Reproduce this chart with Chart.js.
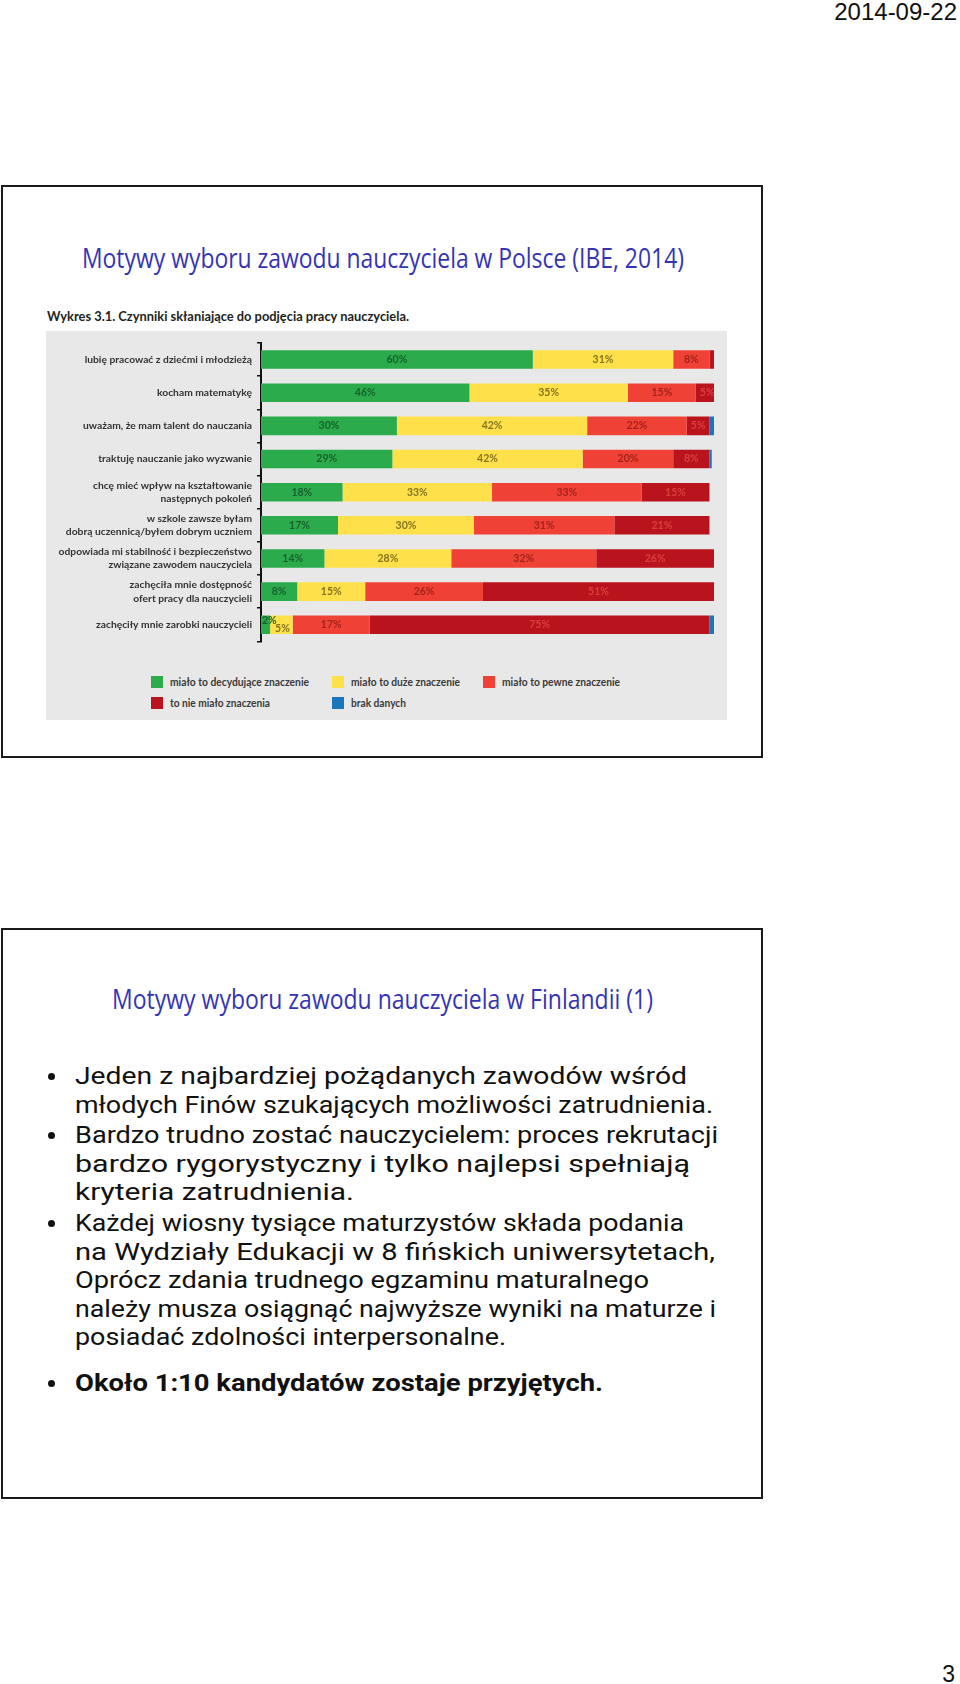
<!DOCTYPE html>
<html><head><meta charset="utf-8">
<script src="https://cdn.jsdelivr.net/npm/chart.js@4.4.1/dist/chart.umd.min.js"></script>
<style>
html,body{margin:0;padding:0;background:#fff;}
body{width:960px;height:1684px;position:relative;overflow:hidden;font-family:"Open Sans",sans-serif;}
.t{position:absolute;white-space:nowrap;line-height:1;transform-origin:0 50%;}
.box{position:absolute;border:2px solid #1a1a1a;box-sizing:border-box;}
.title{font-family:"Open Sans";font-size:27px;color:#3434b4;}
.bl{font-family:"Roboto";font-size:24px;color:#111;}
.dot{position:absolute;width:7px;height:7px;border-radius:50%;background:#111;}
.lg{font-family:"Lato";font-weight:700;font-size:11px;color:#3a3a3a;}
.sq{position:absolute;width:12px;height:12px;}
</style></head><body>

<div class="t" style="right:3px;top:0;font-family:'Liberation Sans';font-size:24px;color:#111;">2014-09-22</div>
<div class="t" style="right:5px;top:1663px;font-family:'Liberation Sans';font-size:23px;color:#111;">3</div>

<div class="box" style="left:1px;top:185px;width:762px;height:573px;"></div>
<div class="box" style="left:1px;top:928px;width:762px;height:571px;"></div>

<div class="t title" data-x="82" data-y="258" data-f="27" data-w="602">Motywy wyboru zawodu nauczyciela w Polsce (IBE, 2014)</div>
<div class="t" style="font-family:Lato;font-weight:700;font-size:13px;color:#231f20;" data-x="47" data-y="317" data-f="13" data-w="362">Wykres 3.1. Czynniki skłaniające do podjęcia pracy nauczyciela.</div>

<div style="position:absolute;left:46px;top:331px;width:681px;height:389px;background:#e8e8e8;"></div>
<div style="position:absolute;left:46px;top:331px;width:668px;height:322px;"><canvas id="c"></canvas></div>

<div id="legend"></div>

<div class="t title" data-x="112" data-y="999" data-f="27" data-w="541">Motywy wyboru zawodu nauczyciela w Finlandii (1)</div>

<div id="bullets"></div>

<script>
// ---- data ----
const categories = [
  'lubię pracować z dziećmi i młodzieżą',
  'kocham matematykę',
  'uważam, że mam talent do nauczania',
  'traktuję nauczanie jako wyzwanie',
  ['chcę mieć wpływ na kształtowanie','następnych pokoleń'],
  ['w szkole zawsze byłam','dobrą uczennicą/byłem dobrym uczniem'],
  ['odpowiada mi stabilność i bezpieczeństwo','związane zawodem nauczyciela'],
  ['zachęciła mnie dostępność','ofert pracy dla nauczycieli'],
  'zachęciły mnie zarobki nauczycieli'
];
const seriesNames = ['miało to decydujące znaczenie','miało to duże znaczenie','miało to pewne znaczenie','to nie miało znaczenia','brak danych'];
const decydujace = [60,46,30,29,18,17,14,8,2];
const duze       = [31,35,42,42,33,30,28,15,5];
const pewne      = [8,15,22,20,33,31,32,26,17];
const nieMialo   = [1,5,5,8,15,21,26,51,75];
const brakDanych = [0,0.4,1,0.5,0,0,0.4,0.4,1];

const bulletLines = [
  {t:'Jeden z najbardziej pożądanych zawodów wśród', b:true},
  {t:'młodych Finów szukających możliwości zatrudnienia.'},
  {t:'Bardzo trudno zostać nauczycielem: proces rekrutacji', b:true},
  {t:'bardzo rygorystyczny i tylko najlepsi spełniają'},
  {t:'kryteria zatrudnienia.'},
  {t:'Każdej wiosny tysiące maturzystów składa podania', b:true},
  {t:'na Wydziały Edukacji w 8 fińskich uniwersytetach,'},
  {t:'Oprócz zdania trudnego egzaminu maturalnego'},
  {t:'należy musza osiągnąć najwyższe wyniki na maturze i'},
  {t:'posiadać zdolności interpersonalne.'},
  {t:'Około 1:10 kandydatów zostaje przyjętych.', b:true, bold:true}
];

// ---- layout helpers ----
const bulletY = [1076,1104.5,1135,1163.5,1192,1223,1251.5,1280,1308.5,1337,1383];
const bulletW = [612,638,643,615,279,609,640,574,641,431,528];
const bc = document.getElementById('bullets');
bulletLines.forEach((l,i)=>{
  const d = document.createElement('div');
  d.className='t bl';
  if(l.bold) d.style.fontWeight='700';
  d.textContent=l.t;
  d.dataset.x=75; d.dataset.y=bulletY[i]; d.dataset.f=24; d.dataset.k=0.49; d.dataset.w=bulletW[i];
  bc.appendChild(d);
  if(l.b){
    const o=document.createElement('div'); o.className='dot';
    o.style.left='48px'; o.style.top=(bulletY[i]-3)+'px';
    bc.appendChild(o);
  }
});

const colors = ['#2bab4b','#fee04b','#ef4136','#b9141d','#1b75bb'];
const labelColors = ['#17602d','#85731f','#a3231b','#d9403d',null];

const legendPos = [
  {x:151,y:682,w:139},{x:332,y:682,w:109},{x:483,y:682,w:118},
  {x:151,y:703,w:100},{x:332,y:703,w:55}
];
const lg = document.getElementById('legend');
seriesNames.forEach((n,i)=>{
  const p=legendPos[i];
  const s=document.createElement('div'); s.className='sq';
  s.style.left=p.x+'px'; s.style.top=(p.y-6)+'px'; s.style.background=colors[i];
  lg.appendChild(s);
  const t=document.createElement('div'); t.className='t lg'; t.textContent=n;
  t.dataset.x=p.x+19; t.dataset.y=p.y; t.dataset.f=11; t.dataset.w=p.w;
  lg.appendChild(t);
});

function placeAll(){
  document.querySelectorAll('[data-w]').forEach(el=>{
    const f=parseFloat(el.dataset.f);
    const k=el.dataset.k?parseFloat(el.dataset.k):0.53;
    el.style.left=el.dataset.x+'px';
    el.style.top=(parseFloat(el.dataset.y)-k*f)+'px';
    el.style.transform='none';
    const w=el.getBoundingClientRect().width;
    el.style.transform='scaleX('+(parseFloat(el.dataset.w)/w)+')';
  });
}
placeAll();

// ---- tick font fitting ----
const tickFamily = '"Liberation Sans Narrow", Lato';
const mc=document.createElement('canvas').getContext('2d');
function fit(text,w){ mc.font='700 100px '+tickFamily; return 100*w/mc.measureText(text).width; }
const tickSize = (fit('odpowiada mi stabilność i bezpieczeństwo',195)+fit('lubię pracować z dziećmi i młodzieżą',167)+fit('dobrą uczennicą/byłem dobrym uczniem',187)+fit('zachęciły mnie zarobki nauczycieli',155))/4;

const segLabels = {
  id:'segLabels',
  afterDatasetsDraw(chart){
    const ctx=chart.ctx;
    ctx.save();
    ctx.font='700 10.5px Lato';
    ctx.textBaseline='middle';
    const narrow=(di,i)=>{
      const v=chart.data.datasets[di].data[i];
      const b=chart.getDatasetMeta(di).data[i];
      return v>=2 && Math.abs(b.x-b.base) < ctx.measureText(v+'%').width+2;
    };
    chart.data.datasets.forEach((ds,di)=>{
      if(!labelColors[di]) return;
      chart.getDatasetMeta(di).data.forEach((bar,i)=>{
        const v=ds.data[i];
        if(v<2) return;
        let x=(bar.x+bar.base)/2, y=bar.y, align='center';
        if(narrow(di,i)){ x=Math.min(bar.x,bar.base)+1; align='left'; y-=4; }
        else if(di>0 && narrow(di-1,i)){ y+=4; x+=1; }
        ctx.fillStyle=labelColors[di]; ctx.textAlign=align;
        ctx.fillText(v+'%',x,y);
      });
    });
    ctx.restore();
  }
};

const seriesData=[decydujace,duze,pewne,nieMialo,brakDanych];
new Chart(document.getElementById('c'),{
  type:'bar',
  data:{
    labels:categories,
    datasets:seriesData.map((d,i)=>({
      label:seriesNames[i], data:d, backgroundColor:colors[i],
      borderWidth:0, categoryPercentage:1, barPercentage:0.56, clip:0
    }))
  },
  options:{
    indexAxis:'y', responsive:true, maintainAspectRatio:false, animation:false,
    layout:{padding:{top:12,left:0,right:0,bottom:0}},
    plugins:{legend:{display:false},tooltip:{enabled:false}},
    scales:{
      x:{stacked:true,min:0,max:100,display:false},
      y:{stacked:true,
        afterFit(s){ s.width=215; },
        border:{display:true,color:'#111',width:2},
        grid:{display:true,drawOnChartArea:false,drawTicks:true,tickLength:4,color:'#111',lineWidth:1.5,offset:true},
        ticks:{padding:5,color:'#333',font:{family:tickFamily,weight:'700',size:tickSize,lineHeight:13.3/tickSize}}
      }
    }
  },
  plugins:[segLabels]
});
</script>
</body></html>
